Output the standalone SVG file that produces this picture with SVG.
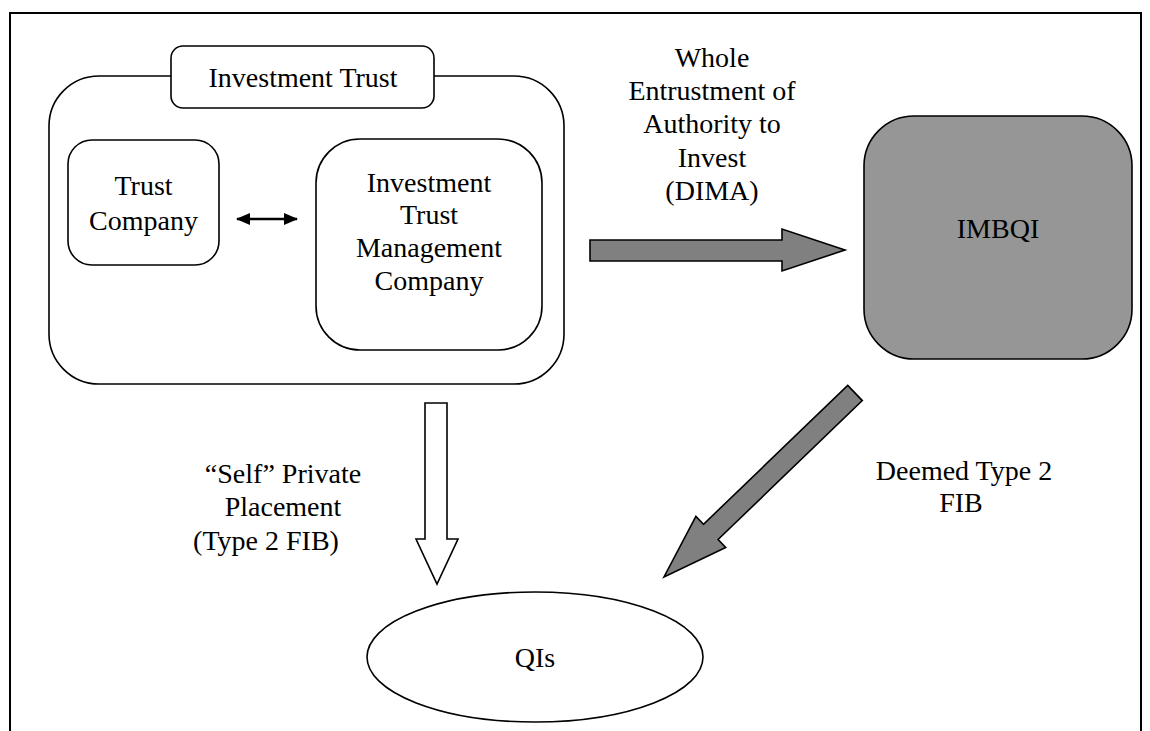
<svg xmlns="http://www.w3.org/2000/svg" width="1150" height="731" viewBox="0 0 1150 731">
  <style>
    text { font-family: "Liberation Serif", "Times New Roman", serif; font-size: 28px; fill: #000; text-anchor: middle; }
    .box { fill: #fff; stroke: #000; stroke-width: 1.6; }
    .grey-box { fill: #969696; stroke: #000; stroke-width: 1.6; }
    .solid-arrow { fill: #808080; stroke: #000; stroke-width: 1.6; stroke-linejoin: miter; }
    .hollow-arrow { fill: #fff; stroke: #000; stroke-width: 1.6; }
    .frame { fill: none; stroke: #000; stroke-width: 2; }
  </style>
  <defs>
    <marker id="head" viewBox="0 0 14 12" refX="13" refY="6" markerWidth="14" markerHeight="12" orient="auto-start-reverse" markerUnits="userSpaceOnUse">
      <path d="M0,0 L14,6 L0,12 z" fill="#000"/>
    </marker>
  </defs>

  <rect width="1150" height="731" fill="#fff"/>
  <!-- page frame (open at the bottom) -->
  <path class="frame" d="M10,731 V13 H1141 V731"/>

  <!-- Investment Trust container -->
  <g id="investment-trust">
    <rect class="box" x="49" y="76" width="515" height="308" rx="50" ry="50"/>
    <rect class="box" x="171" y="46" width="263" height="62" rx="12" ry="12"/>
    <text x="303" y="87">Investment Trust</text>
  </g>

  <g id="trust-company">
    <rect class="box" x="68" y="140" width="151" height="125" rx="24" ry="24"/>
    <text x="143.5" y="195">Trust</text>
    <text x="143.5" y="230">Company</text>
  </g>

  <g id="itmc">
    <rect class="box" x="316" y="139" width="226" height="211" rx="44" ry="44"/>
    <text x="429" y="192">Investment</text>
    <text x="429" y="224">Trust</text>
    <text x="429" y="257">Management</text>
    <text x="429" y="290">Company</text>
  </g>

  <g id="imbqi">
    <rect class="grey-box" x="864" y="116" width="268" height="243" rx="50" ry="50"/>
    <text x="998" y="238">IMBQI</text>
  </g>

  <g id="qis">
    <ellipse class="box" cx="535" cy="657" rx="168" ry="65"/>
    <text x="535" y="667">QIs</text>
  </g>

  <!-- connectors -->
  <g id="connectors">
    <line x1="237" y1="219" x2="297" y2="219" stroke="#000" stroke-width="2.4" marker-start="url(#head)" marker-end="url(#head)"/>
    <polygon class="solid-arrow" points="590,240 782,240 782,229 845,250 782,271 782,261 590,261"/>
    <polygon class="solid-arrow" points="847.7,385.4 862.3,400.6 718.1,539.5 725.7,547.4 664,577 695.9,516.4 703.5,524.3"/>
    <polygon class="hollow-arrow" points="425,403 447,403 447,539 458,539 437,584 416,539 425,539"/>
  </g>

  <!-- connector labels -->
  <g id="labels">
    <text x="712" y="67">Whole</text>
    <text x="712" y="100">Entrustment of</text>
    <text x="712" y="133">Authority to</text>
    <text x="712" y="167">Invest</text>
    <text x="712" y="200">(DIMA)</text>

    <text x="283" y="483">“Self” Private</text>
    <text x="283" y="516">Placement</text>
    <text x="266" y="550">(Type 2 FIB)</text>

    <text x="964" y="480">Deemed Type 2</text>
    <text x="961" y="512">FIB</text>
  </g>
</svg>
